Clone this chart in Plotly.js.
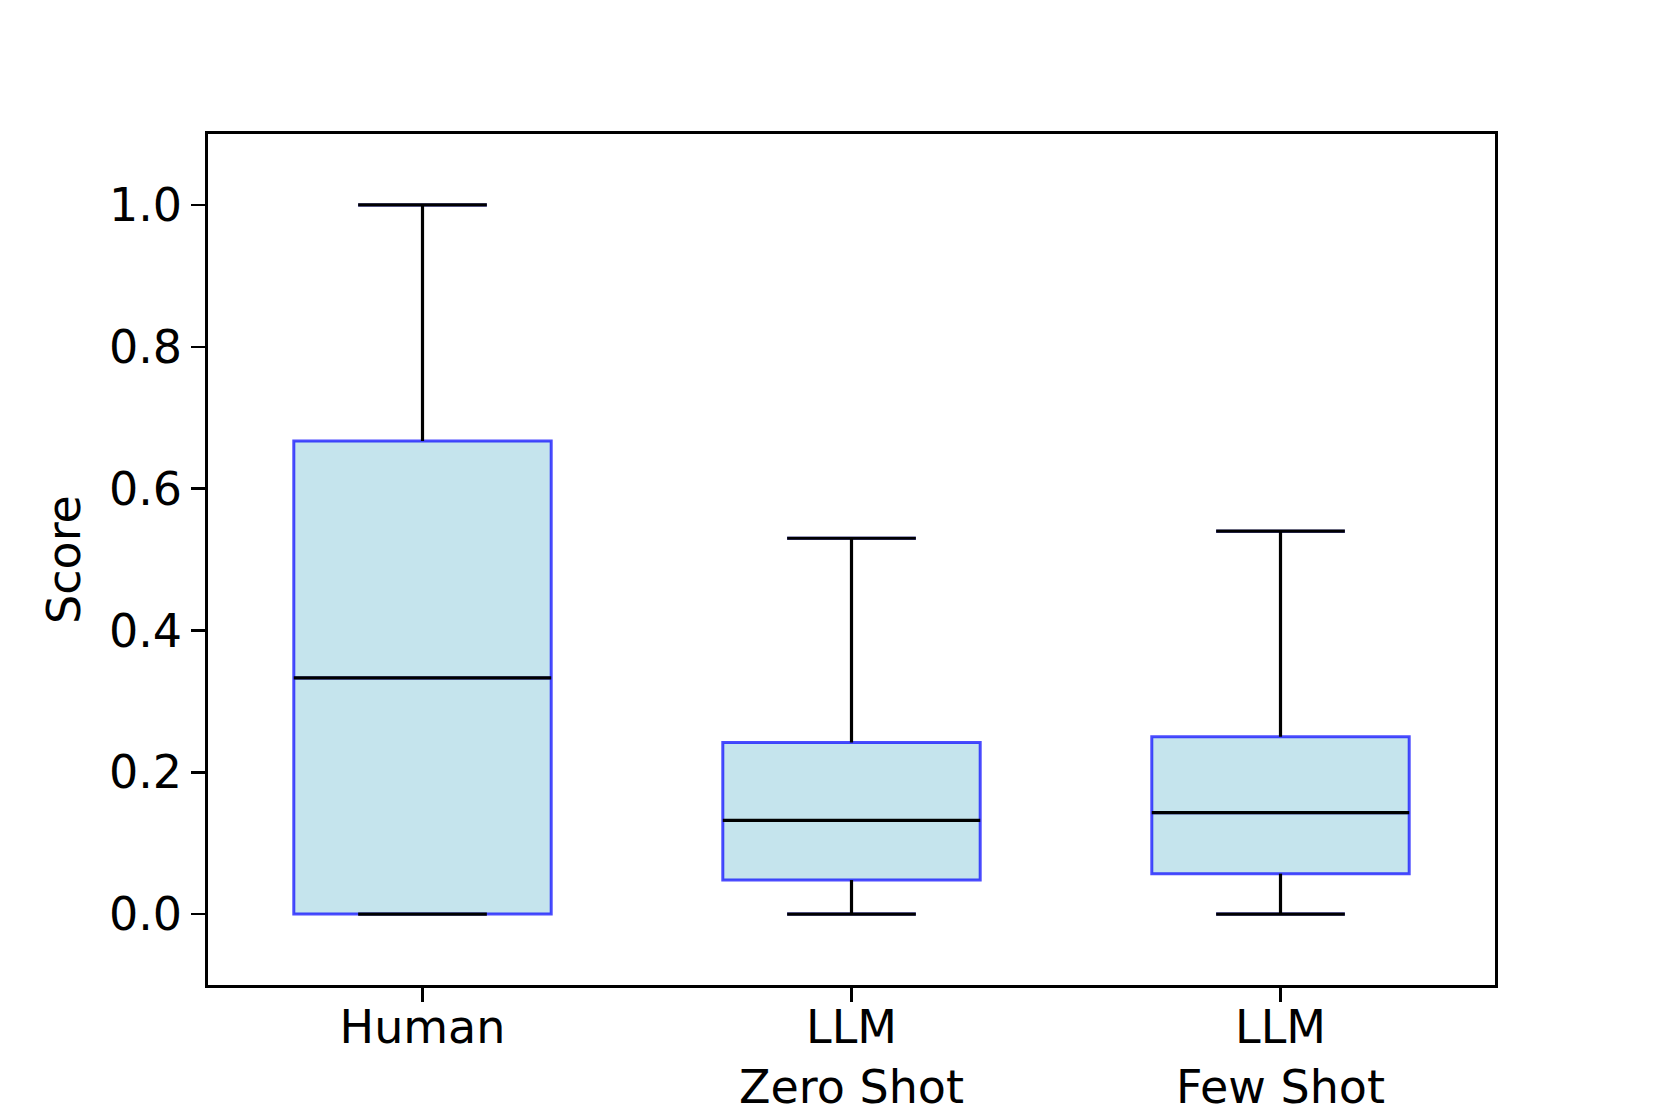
<!DOCTYPE html>
<html>
<head>
<meta charset="utf-8">
<script src="https://cdn.plot.ly/plotly-3.0.1.min.js"></script>
<style>
  html, body { margin: 0; padding: 0; background: #ffffff; }
  #chart { width: 1661px; height: 1107px; }
</style>
</head>
<body>
<div id="chart"></div>
<script>
// ---- data ----
const categories = ["Human", "LLM<br>Zero Shot", "LLM<br>Few Shot"];
const positions = [1, 2, 3];
const lowerWhisker = [0.0, 0.0, 0.0];
const q1Values = [0.0, 0.048, 0.057];
const medianValues = [0.333, 0.132, 0.143];
const q3Values = [0.667, 0.242, 0.25];
const upperWhisker = [1.0, 0.53, 0.54];
const yTickValues = [0.0, 0.2, 0.4, 0.6, 0.8, 1.0];

// ---- styles ----
const boxWidth = 0.6;
const capFraction = 0.5;
const fontFamily = "DejaVu Sans, sans-serif";
const fontSize = 46;

const boxTrace = {
  type: "box",
  x: positions,
  q1: q1Values,
  median: medianValues,
  q3: q3Values,
  lowerfence: lowerWhisker,
  upperfence: upperWhisker,
  width: boxWidth,
  whiskerwidth: capFraction,
  boxpoints: false,
  fillcolor: "rgba(173,216,230,0.7)",
  line: { color: "rgba(0,0,255,0.7)", width: 3 },
  hoverinfo: "skip",
  showlegend: false
};

// black whiskers, caps and medians built from the same statistics
const lx = [], ly = [];
const half = boxWidth / 2;
const capHalf = boxWidth * capFraction / 2;
positions.forEach((p, i) => {
  lx.push(p, p, null); ly.push(lowerWhisker[i], q1Values[i], null);
  lx.push(p - capHalf, p + capHalf, null); ly.push(lowerWhisker[i], lowerWhisker[i], null);
  lx.push(p, p, null); ly.push(q3Values[i], upperWhisker[i], null);
  lx.push(p - capHalf, p + capHalf, null); ly.push(upperWhisker[i], upperWhisker[i], null);
  lx.push(p - half, p + half, null); ly.push(medianValues[i], medianValues[i], null);
});

const lineTrace = {
  type: "scatter",
  mode: "lines",
  x: lx,
  y: ly,
  line: { color: "#000000", width: 3.2 },
  connectgaps: false,
  hoverinfo: "skip",
  showlegend: false
};

const layout = {
  width: 1661,
  height: 1107,
  margin: { l: 208, r: 166, t: 134, b: 122, pad: 0 },
  paper_bgcolor: "#ffffff",
  plot_bgcolor: "#ffffff",
  font: { family: fontFamily, size: fontSize, color: "#000000" },
  showlegend: false,
  xaxis: {
    range: [0.5, 3.5],
    tickmode: "array",
    tickvals: positions,
    ticktext: categories,
    ticks: "outside",
    ticklen: 14,
    tickwidth: 2.5,
    tickcolor: "#000000",
    ticklabelstandoff: -14,
    showline: true,
    linecolor: "#000000",
    linewidth: 2.7,
    mirror: true,
    showgrid: false,
    zeroline: false,
    tickfont: { family: fontFamily, size: fontSize, color: "#000000" }
  },
  yaxis: {
    range: [-0.1, 1.1],
    tickmode: "array",
    tickvals: yTickValues,
    ticktext: yTickValues.map(v => v.toFixed(1)),
    ticks: "outside",
    ticklen: 14,
    tickwidth: 2.5,
    tickcolor: "#000000",
    showline: true,
    linecolor: "#000000",
    linewidth: 2.7,
    mirror: true,
    showgrid: false,
    zeroline: false,
    tickfont: { family: fontFamily, size: fontSize, color: "#000000" },
    title: { text: "Score", standoff: 14, font: { family: fontFamily, size: fontSize, color: "#000000" } }
  }
};

Plotly.newPlot("chart", [boxTrace, lineTrace], layout, { staticPlot: true, displayModeBar: false });
</script>
</body>
</html>
